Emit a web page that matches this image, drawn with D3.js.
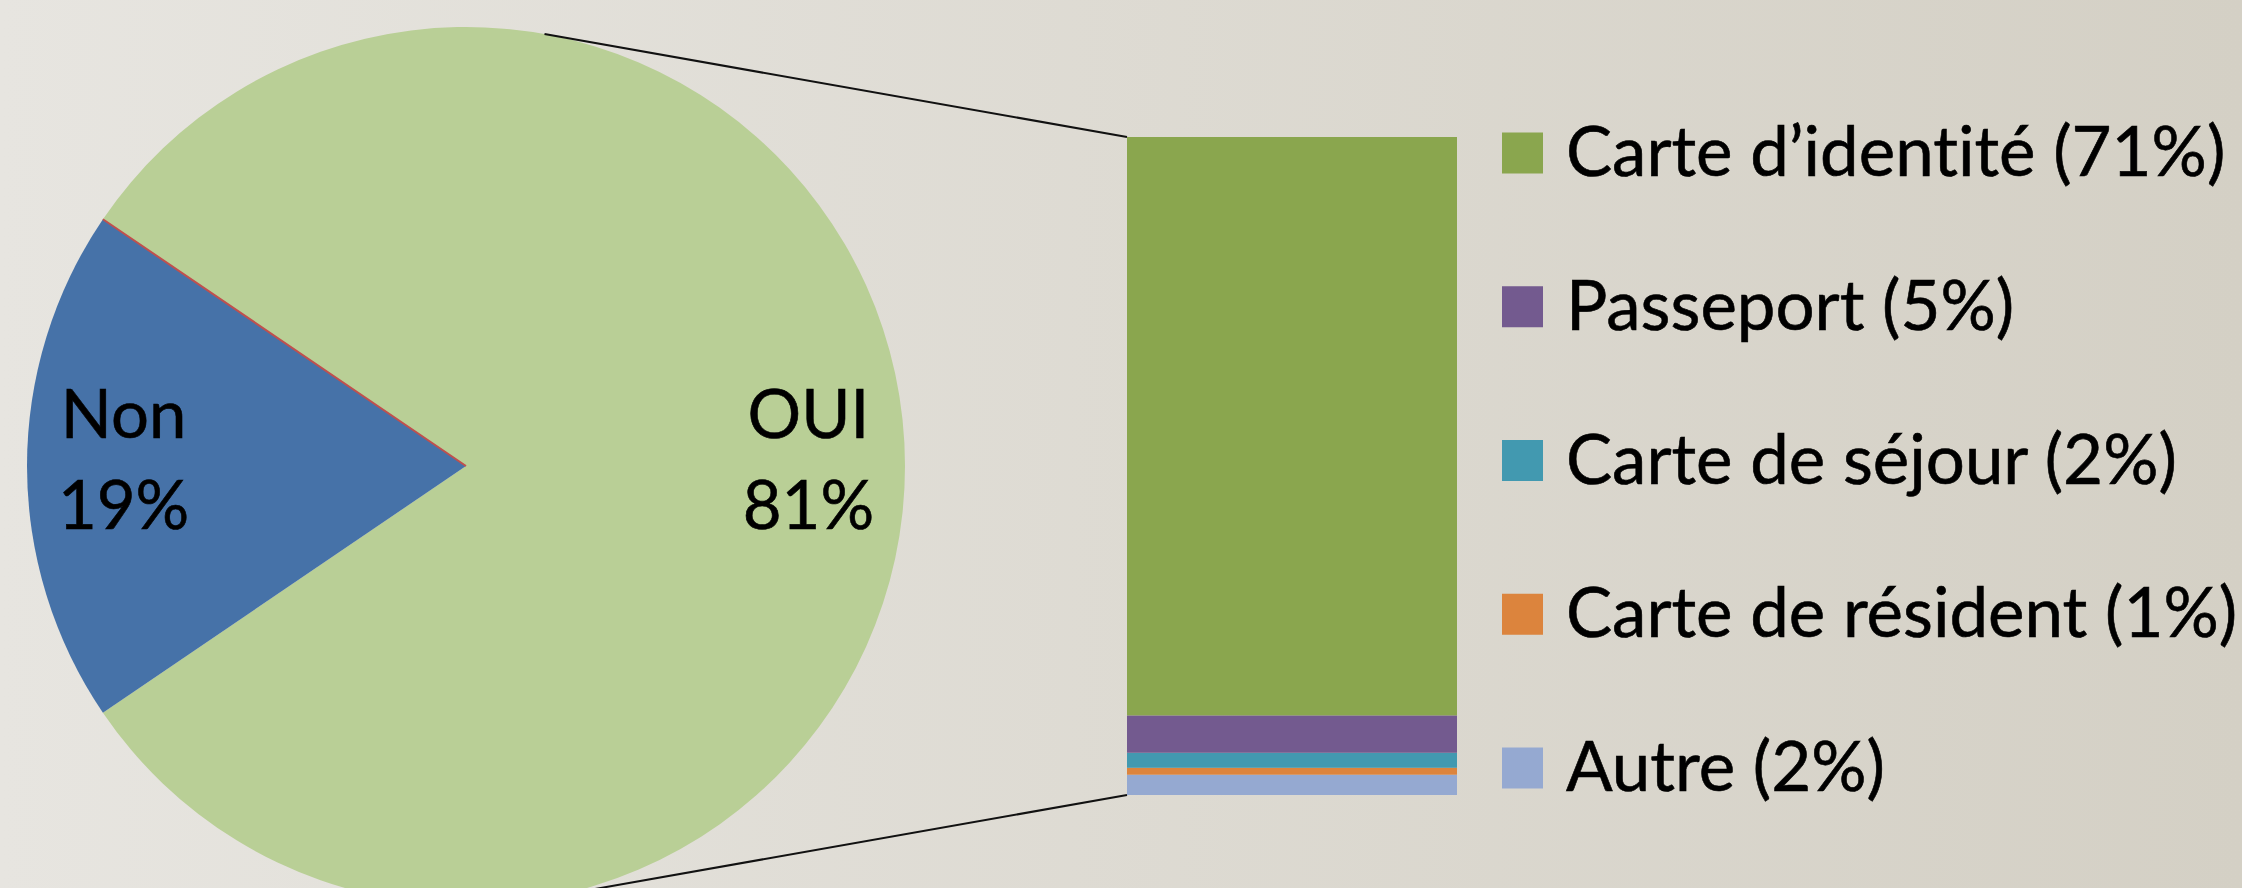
<!DOCTYPE html>
<html>
<head>
<meta charset="utf-8">
<script src="https://cdn.jsdelivr.net/npm/d3@7"></script>
<style>
  body { margin: 0; overflow: hidden; }
  svg { display: block; }
  text { font-variant-ligatures: none; font-feature-settings: "liga" 0; }
</style>
</head>
<body>
<div id="chart"></div>
<script>
// Pie: main answer
const pieLabels = ["OUI", "Non", ""];
const pieValues = [81, 19, 0];
const pieColors = ["#b9cf96", "#4672a8", "#c0504d"];

// Bar: breakdown of "OUI"
const barLabels = ["Carte d\u2019identité", "Passeport", "Carte de séjour", "Carte de résident", "Autre"];
const barValues = [71.2, 4.6, 1.85, 0.85, 2.5];
const barPercents = [71, 5, 2, 1, 2];
const barColors = ["#8aa64e", "#735a8f", "#4299b0", "#dc843d", "#95a9d1"];

const chart = (() => {
  const width = 2242;
  const height = 888;
  const font = "Lato, 'Open Sans', sans-serif";

  const svg = d3.select("#chart").append("svg")
    .attr("width", width)
    .attr("height", height)
    .attr("viewBox", [0, 0, width, height]);

  // background
  const grad = svg.append("defs").append("linearGradient")
    .attr("id", "bg").attr("x1", 0).attr("x2", 1).attr("y1", 0).attr("y2", 0);
  grad.append("stop").attr("offset", 0).attr("stop-color", "#e7e5e0");
  grad.append("stop").attr("offset", 1).attr("stop-color", "#d4d0c5");
  svg.append("rect").attr("width", width).attr("height", height).attr("fill", "url(#bg)");

  // pie layout, split slice centred on the right
  const cx = 466, cy = 466, r = 439;
  const total = d3.sum(pieValues);
  const start = Math.PI / 2 - (pieValues[0] / total) * Math.PI;
  const pie = d3.pie().sort(null).startAngle(start).endAngle(start + 2 * Math.PI);
  const arcs = pie(pieValues);
  const arc = d3.arc().innerRadius(0).outerRadius(r);
  const labelArc = d3.arc().innerRadius(r * 0.78).outerRadius(r * 0.78);

  const g = svg.append("g").attr("transform", `translate(${cx},${cy})`);
  g.selectAll("path")
    .data(arcs)
    .join("path")
    .attr("d", arc)
    .attr("fill", (d, i) => pieColors[i])
    .attr("stroke", (d, i) => d.value === 0 ? pieColors[i] : "none")
    .attr("stroke-width", 2);

  const lab = g.selectAll("text")
    .data(arcs.filter(d => d.value > 0))
    .join("text")
    .attr("transform", d => `translate(${labelArc.centroid(d)})`)
    .attr("text-anchor", "middle")
    .attr("font-family", font)
    .attr("font-size", 67)
    .attr("fill", "#000")
    .attr("stroke", "#000")
    .attr("stroke-width", 0.6);
  lab.append("tspan").attr("x", 0).attr("y", -28).text(d => pieLabels[d.index]);
  lab.append("tspan").attr("x", 0).attr("y", 63).text(d => d3.format(".0%")(d.value / total));

  // stacked bar
  const barX = 1127, barW = 330;
  const y = d3.scaleLinear().domain([0, pieValues[0]]).range([795, 137]);
  const stackData = barValues.map((v, i) => ({ i, v })).reverse();
  let acc = 0;
  stackData.forEach(d => { d.y0 = acc; acc += d.v; d.y1 = acc; });

  svg.append("g").selectAll("rect")
    .data(stackData)
    .join("rect")
    .attr("x", barX)
    .attr("width", barW)
    .attr("y", d => y(d.y1))
    .attr("height", d => y(d.y0) - y(d.y1))
    .attr("fill", d => barColors[d.i]);

  // connector lines from pie to bar
  const connAngle = 10.3 * Math.PI / 180;
  const lines = [
    { px: cx + r * Math.sin(connAngle), py: cy - r * Math.cos(connAngle), by: y(acc) },
    { px: cx + r * Math.sin(connAngle), py: cy + r * Math.cos(connAngle), by: y(0) }
  ];
  svg.append("g").selectAll("line")
    .data(lines)
    .join("line")
    .attr("x1", d => d.px).attr("y1", d => d.py)
    .attr("x2", barX).attr("y2", d => d.by)
    .attr("stroke", "#111")
    .attr("stroke-width", 2);

  // legend
  const legY = d3.scalePoint().domain(d3.range(barLabels.length)).range([153, 768]);
  const leg = svg.append("g").selectAll("g")
    .data(barLabels)
    .join("g")
    .attr("transform", (d, i) => `translate(1502,${legY(i)})`);
  leg.append("rect")
    .attr("y", -20.5).attr("width", 41).attr("height", 41)
    .attr("fill", (d, i) => barColors[i]);
  leg.append("text")
    .attr("x", 64).attr("y", 23)
    .attr("font-family", font)
    .attr("font-size", 69)
    .attr("fill", "#000")
    .attr("stroke", "#000")
    .attr("stroke-width", 0.6)
    .text((d, i) => `${d} (${barPercents[i]}%)`);

  return svg.node();
})();
</script>
</body>
</html>
